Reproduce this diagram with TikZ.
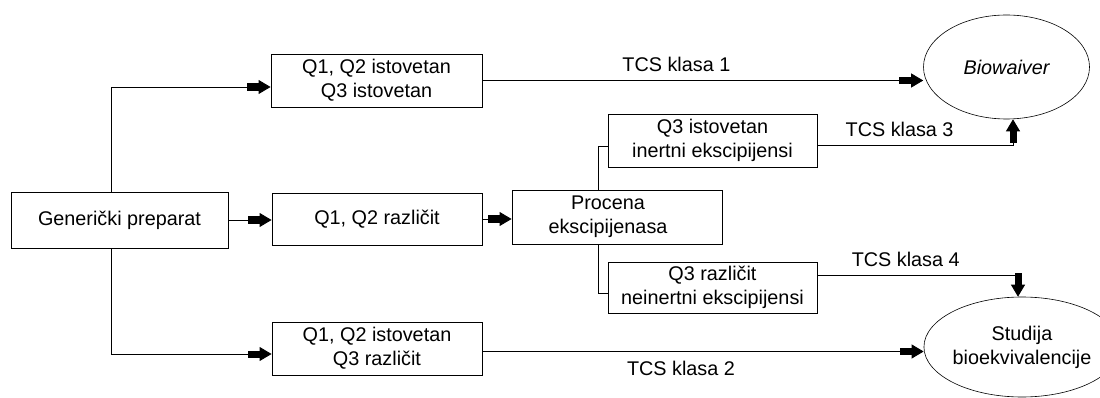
\documentclass[tikz,border=0pt]{standalone}
\usepackage{fontspec}
\setmainfont{Liberation Sans}
\usetikzlibrary{arrows.meta,shapes.geometric,calc}
\begin{document}
\begin{tikzpicture}[x=1pt,y=-1pt,
  every node/.style={font=\fontsize{19.8}{24}\selectfont},
  box/.style={draw,line width=0.9pt,inner sep=0pt,align=center},
  oval/.style={draw,ellipse,line width=0.6pt,inner sep=0pt,align=center},
  ln/.style={line width=0.9pt},
  arr/.style={line width=0.9pt,-{Rectangle[length=12pt,width=7pt]Triangle[length=12pt,width=14pt]}},
  lbl/.style={inner sep=0pt}]
\useasboundingbox (0,0) rectangle (1100,398);
\node[box,minimum width=217,minimum height=56] (gen) at (119.5,220) {Generički preparat};
\node[box,minimum width=211,minimum height=53] (b1) at (376.5,80.5) {Q1, Q2 istovetan\\Q3 istovetan};
\node[box,minimum width=210,minimum height=52] (b2) at (377,219) {Q1, Q2 različit};
\node[box,minimum width=210,minimum height=53] (b3) at (377,348.5) {Q1, Q2 istovetan\\Q3 različit};
\node[box,minimum width=210,minimum height=54] (pro) at (617,217) {Procena\hspace*{18pt}\\ekscipijenasa\hspace*{18pt}};
\node[box,minimum width=209,minimum height=53] (q3i) at (712.5,140.5) {Q3 istovetan\\inertni ekscipijensi};
\node[box,minimum width=209,minimum height=51] (q3r) at (712.5,287.5) {Q3 različit\\neinertni ekscipijensi};
\node[oval,minimum width=166,minimum height=104] (bio) at (1006.5,67) {\itshape Biowaiver};
\node[oval,minimum width=158,minimum height=100] (stu) at (1022,347) {Studija\\bioekvivalencije};
% connectors
\draw[arr] ([xshift=-8.5]gen.north) |- ([yshift=-6.5]b1.west);
\draw[arr] (gen.east) -- (gen.east -| b2.west);
\draw[arr] ([xshift=-8.5]gen.south) |- ([yshift=-5.5]b3.west);
\draw[arr] (b1.east) -- (b1.east -| bio.west) node[lbl,pos=0.44,above=8pt] {TCS klasa 1};
\draw[arr] (b2.east) -- (b2.east -| pro.west);
\draw[ln] ([xshift=-19]pro.north) |- ([yshift=-5.5]q3i.west);
\draw[ln] ([xshift=-19]pro.south) |- ([yshift=-5.5]q3r.west);
\draw[arr] ([yshift=-4.5]q3i.east) -| ([xshift=6.5]bio.south) node[lbl,pos=0.21,above=8pt] {TCS klasa 3};
\draw[arr] ([yshift=12.5]q3r.east) -| ([xshift=-4]stu.north) node[lbl,pos=0.22,above=8pt] {TCS klasa 4};
\draw[arr] ([yshift=-3]b3.east) -- ([yshift=-3]b3.east -| stu.west) node[lbl,pos=0.45,below=9pt] {TCS klasa 2};
\end{tikzpicture}
\end{document}
